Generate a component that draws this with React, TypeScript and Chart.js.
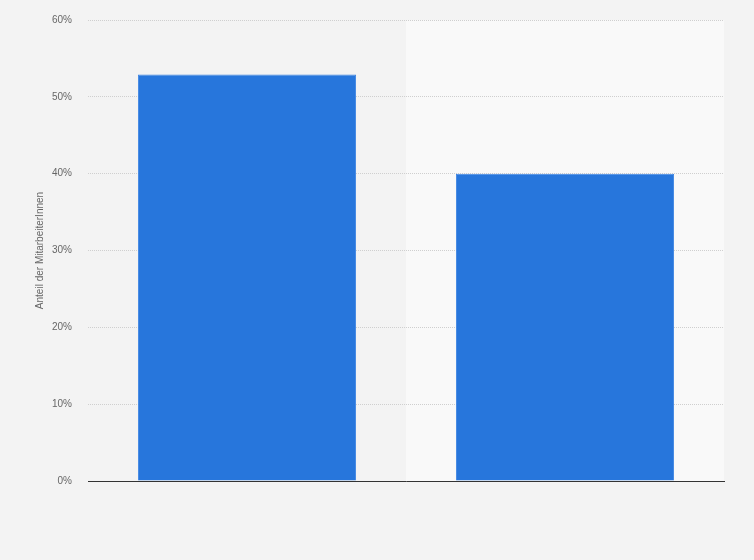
import { useEffect, useRef } from "react";
import { Chart, registerables } from "chart.js";

Chart.register(...registerables);

const categories = ["Gruppe A", "Gruppe B"];
const shares = [52.9, 40];
const yTicks = [0, 10, 20, 30, 40, 50, 60];

// lighter background band behind every second category
const bandPlugin = {
  id: "bands",
  beforeDraw(chart: Chart) {
    const { ctx, chartArea, scales } = chart;
    const x = scales.x;
    const step = (chartArea.right - chartArea.left) / categories.length;
    ctx.save();
    categories.forEach((_, i) => {
      if (i % 2 === 1) {
        const cx = x.getPixelForValue(i);
        ctx.fillStyle = "#f9f9f9";
        ctx.fillRect(cx - step / 2, chartArea.top, step, chartArea.bottom - chartArea.top);
      }
    });
    ctx.restore();
  },
};

function ShareChart() {
  const chartRef = useRef<HTMLCanvasElement | null>(null);
  const chartInstance = useRef<Chart | null>(null);

  useEffect(() => {
    if (!chartRef.current) return;
    const ctx = chartRef.current.getContext("2d");
    if (!ctx) return;

    if (chartInstance.current) {
      chartInstance.current.destroy();
    }

    chartInstance.current = new Chart(ctx, {
      type: "bar",
      data: {
        labels: categories,
        datasets: [
          {
            label: "Anteil",
            data: shares,
            backgroundColor: "#2776dc",
            borderColor: "#3f85e2",
            borderWidth: 1,
            barPercentage: 0.686,
            categoryPercentage: 1,
          },
        ],
      },
      plugins: [bandPlugin],
      options: {
        animation: false,
        responsive: false,
        maintainAspectRatio: false,
        layout: { padding: { left: 0, right: 30, top: 20, bottom: 0 } },
        plugins: {
          legend: { display: false },
          tooltip: { enabled: false },
        },
        scales: {
          x: {
            grid: { display: false },
            ticks: { display: false },
            border: { display: true, color: "#333333", width: 1 },
            afterFit: (scale: any) => {
              scale.height = 79;
              scale.paddingLeft = 0;
              scale.paddingRight = 0;
            },
          },
          y: {
            min: 0,
            max: 60,
            afterBuildTicks: (scale: any) => {
              scale.ticks = yTicks.map((v) => ({ value: v }));
            },
            afterFit: (scale: any) => {
              scale.width = 88;
              scale.paddingTop = 0;
              scale.paddingBottom = 0;
            },
            grid: {
              color: "#cfcfcf",
              drawTicks: false,
            },
            border: { display: false, dash: [1, 1] },
            ticks: {
              padding: 16,
              color: "#666666",
              font: { family: "'Liberation Sans', Arial, sans-serif", size: 10 },
              callback: (v: any) => `${v}%`,
            },
            title: {
              display: true,
              text: "Anteil der MitarbeiterInnen",
              color: "#666666",
              padding: { top: 34, bottom: 0 },
              font: { family: "'Liberation Sans', Arial, sans-serif", size: 10 },
            },
          },
        },
      },
    });

    return () => {
      if (chartInstance.current) {
        chartInstance.current.destroy();
        chartInstance.current = null;
      }
    };
  }, []);

  return <canvas ref={chartRef} width={754} height={560} style={{ display: "block" }} />;
}

export default function App() {
  return (
    <div
      style={{
        position: "absolute",
        left: 0,
        top: 0,
        width: 754,
        height: 560,
        background: "#f3f3f3",
      }}
    >
      <ShareChart />
    </div>
  );
}
